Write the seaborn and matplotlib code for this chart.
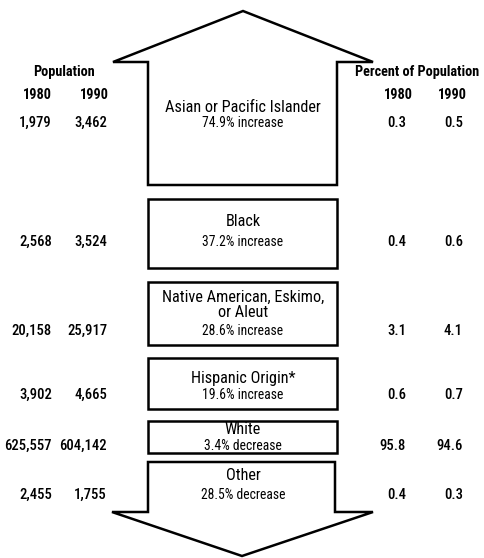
import matplotlib
matplotlib.use("Agg")
import matplotlib.pyplot as plt
from matplotlib import font_manager
from matplotlib.patches import Polygon, Rectangle
import seaborn as sns

# data
groups = ["Asian or Pacific Islander", "Black", "Native American, Eskimo,\nor Aleut",
          "Hispanic Origin*", "White", "Other"]
change = ["74.9% increase", "37.2% increase", "28.6% increase",
          "19.6% increase", "3.4% decrease", "28.5% decrease"]
pop_1980 = [1979, 2568, 20158, 3902, 625557, 2455]
pop_1990 = [3462, 3524, 25917, 4665, 604142, 1755]
pct_1980 = [0.3, 0.4, 3.1, 0.6, 95.8, 0.4]
pct_1990 = [0.5, 0.6, 4.1, 0.7, 94.6, 0.3]

# layout (pixel units, y down)
row_y = [123, 242, 331, 395, 446, 495]
name_y = [108, 222, 305, 378, 430, 475]
box_top = [199, 282, 358, 421]
box_bot = [268, 345, 409, 453]
L, R = 148, 337

sns.set_style("white")
installed = {f.name for f in font_manager.fontManager.ttflist}
narrow = [f for f in ['Liberation Sans Narrow', 'DejaVu Sans Condensed', 'Roboto Condensed', 'Roboto']
          if f in installed]
plt.rcParams['font.family'] = narrow[:1] + ['DejaVu Sans']
plt.rcParams['text.color'] = 'black'

fig = plt.figure(figsize=(4.84, 5.58), dpi=100)
ax = fig.add_axes([0, 0, 1, 1])
ax.set_xlim(0, 484)
ax.set_ylim(558, 0)
ax.axis("off")

lw = 1.8
up = Polygon([(L, 185), (L, 62), (113, 62), (243, 11), (373, 62), (R, 62), (R, 185)],
             closed=True, fill=False, lw=lw, ec="black", joinstyle="miter")
ax.add_patch(up)
down = Polygon([(L, 462), (L, 512), (112, 512), (242, 556), (373, 512), (335, 512), (335, 462)],
               closed=True, fill=False, lw=lw, ec="black", joinstyle="miter")
ax.add_patch(down)
for t, b in zip(box_top, box_bot):
    ax.add_patch(Rectangle((L, t), R - L, b - t, fill=False, lw=lw, ec="black"))

# headers
hdr = dict(fontsize=10.3, fontweight="bold", ha="center", va="center")
ax.text(64, 72, "Population", **hdr)
ax.text(37, 95, "1980", **hdr)
ax.text(94, 95, "1990", **hdr)
ax.text(417, 72, "Percent of Population", **hdr)
ax.text(398, 95, "1980", **hdr)
ax.text(452, 95, "1990", **hdr)

num = dict(fontsize=10.5, fontweight="medium", ha="right", va="center")
for i in range(len(groups)):
    y = row_y[i]
    ax.text(52, y, f"{pop_1980[i]:,}", **num)
    ax.text(107, y, f"{pop_1990[i]:,}", **num)
    ax.text(406, y, f"{pct_1980[i]:.1f}", **num)
    ax.text(463, y, f"{pct_1990[i]:.1f}", **num)
    ax.text(243, name_y[i], groups[i], fontsize=11.7, ha="center", va="center", linespacing=1.0)
    ax.text(243, y, change[i], fontsize=9.8, ha="center", va="center")

fig.savefig("out.png", dpi=100)
